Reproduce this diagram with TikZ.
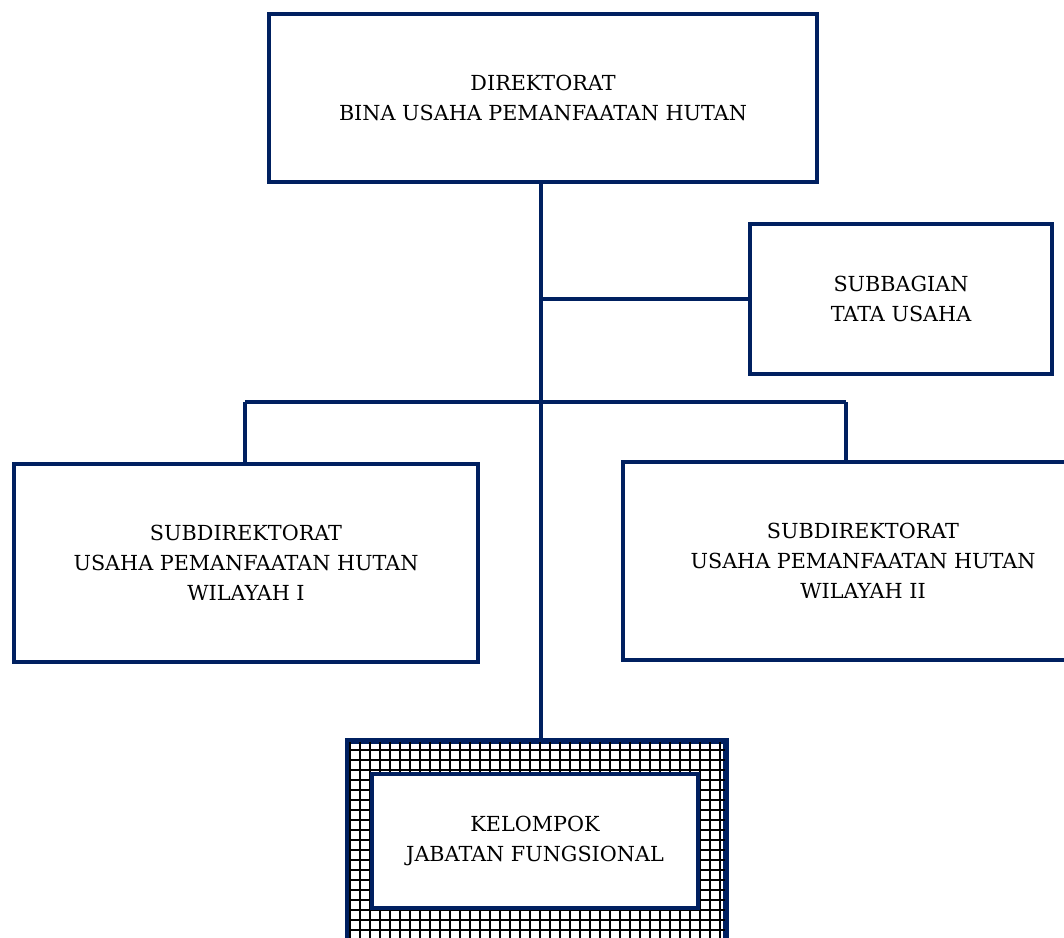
\documentclass[tikz,border=0pt]{standalone}
\usepackage{fontspec}
\setmainfont{DejaVu Serif}
\usetikzlibrary{positioning}
\definecolor{navy}{RGB}{0,32,96}
\begin{document}
\begin{tikzpicture}[x=0.02cm, y=-0.02cm,
    unit/.style={draw=navy, line width=0.08cm, fill=white, align=center,
      inner sep=0pt, font=\fontsize{11.8}{17}\selectfont},
    link/.style={draw=navy, line width=0.08cm}]
  \useasboundingbox (0,0) rectangle (1064,937);
  % boxes
  \node[unit, minimum width=10.96cm, minimum height=3.38cm] (dir) at (543,98)
    {DIREKTORAT\\BINA USAHA PEMANFAATAN HUTAN};
  \node[unit, minimum width=6.04cm, minimum height=3.02cm] (tu) at (901,299)
    {SUBBAGIAN\\TATA USAHA};
  \node[unit, minimum width=9.28cm, minimum height=3.96cm] (wil1) at (246,563)
    {SUBDIREKTORAT\\USAHA PEMANFAATAN HUTAN\\WILAYAH I};
  \node[unit, minimum width=9.6cm, minimum height=3.96cm] (wil2) at (863,561)
    {SUBDIREKTORAT\\USAHA PEMANFAATAN HUTAN\\WILAYAH II};
  % hatched frame round the functional group
  \node[draw=navy, line width=0.08cm, minimum width=7.52cm, minimum height=4.06cm,
    inner sep=0pt] (kelout) at (537,843) {};
  \begin{scope}
    \clip (kelout.south west) rectangle (kelout.north east);
    \draw[black, line width=0.05cm, step=0.2cm] (340,730) grid (740,950);
  \end{scope}
  \draw[navy, line width=0.08cm] (kelout.south west) rectangle (kelout.north east);
  \node[unit, minimum width=6.52cm, minimum height=2.68cm] (kel) at (535,841)
    {KELOMPOK\\JABATAN FUNGSIONAL};
  % connectors
  \coordinate (trunk) at (541,0);
  \coordinate (busL) at (245,402);
  \coordinate (busR) at (846,402);
  \draw[link] (dir.south -| trunk) -- (kelout.north -| trunk);
  \draw[link] (tu.west -| trunk) -- (tu.west);
  \draw[link] (busL) -- (busR);
  \draw[link] (wil1.north -| busL) -- (busL);
  \draw[link] (wil2.north -| busR) -- (busR);
\end{tikzpicture}
\end{document}
